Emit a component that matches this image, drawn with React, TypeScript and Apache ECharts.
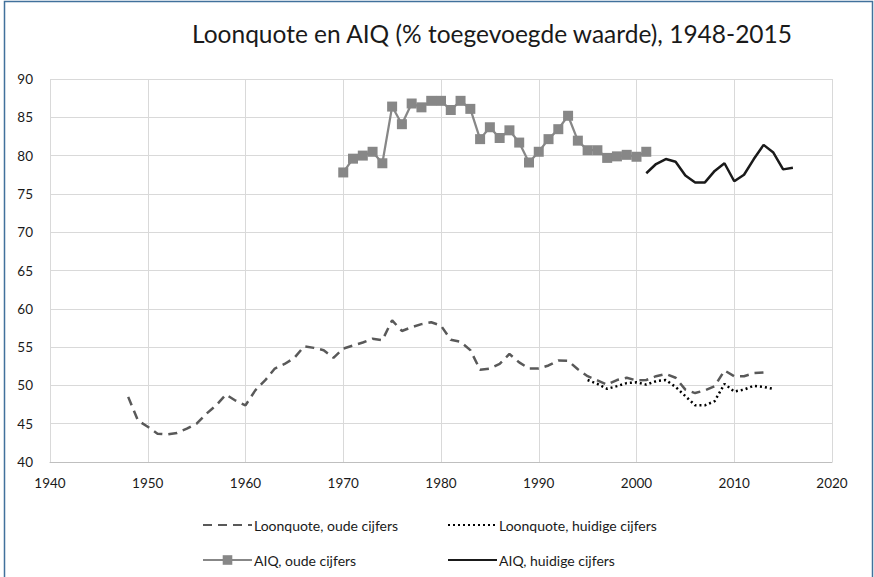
import React, { useEffect, useRef } from "react";
import * as echarts from "echarts";

const titleText = "Loonquote en AIQ (% toegevoegde waarde), 1948-2015";
const seriesNames = [
  "Loonquote, oude cijfers",
  "Loonquote, huidige cijfers",
  "AIQ, oude cijfers",
  "AIQ, huidige cijfers",
];

const lqOldStart = 1948;
const lqOld = [
  48.5, 45.4, 44.6, 43.7, 43.6, 43.8, 44.35, 45.0, 46.3, 47.4, 48.8, 48.0, 47.4,
  49.35, 50.65, 52.2, 52.8, 53.6, 55.1, 54.9, 54.6, 53.6, 54.8, 55.2, 55.6, 56.1,
  55.9, 58.5, 57.1, 57.6, 58.0, 58.25, 57.8, 55.95, 55.7, 54.6, 52.05, 52.2, 52.8,
  54.1, 53.0, 52.2, 52.2, 52.6, 53.25, 53.2, 52.1, 51.2, 50.65, 50.1, 50.7, 51.0,
  50.65, 50.7, 51.2, 51.5, 51.0, 49.45, 49.0, 49.35, 49.9, 51.95, 51.2, 51.2, 51.6,
  51.7,
];

const lqNewStart = 1995;
const lqNew = [
  50.7, 50.2, 49.55, 49.9, 50.3, 50.4, 50.1, 50.55, 50.7, 49.8, 48.6, 47.4, 47.4,
  47.95, 50.2, 49.2, 49.45, 49.95, 49.8, 49.55,
];

const aiqOldStart = 1970;
const aiqOld = [
  77.8, 79.6, 80.0, 80.5, 79.0, 86.4, 84.1, 86.8, 86.3, 87.15, 87.15, 85.95, 87.15,
  86.1, 82.15, 83.7, 82.3, 83.3, 81.7, 79.1, 80.5, 82.15, 83.45, 85.2, 81.95, 80.7,
  80.7, 79.7, 79.9, 80.1, 79.85, 80.5,
];

const aiqNewStart = 2001;
const aiqNew = [
  77.7, 78.9, 79.55, 79.2, 77.4, 76.5, 76.5, 78.0, 79.0, 76.65, 77.5, 79.55, 81.4,
  80.4, 78.2, 78.4,
];

const toPairs = (start: number, vals: number[]) =>
  vals.map((v, i) => [start + i, v]);

const FONT = "Lato, 'Liberation Sans', sans-serif";

export default function App() {
  const ref = useRef<HTMLDivElement>(null);

  useEffect(() => {
    if (!ref.current) return;
    const chart = echarts.init(ref.current, undefined, { renderer: "svg" });

    const legendBase = {
      orient: "horizontal",
      padding: 0,
      itemWidth: 49,
      itemHeight: 12,
      itemGap: 0,
      textStyle: { fontFamily: FONT, fontSize: 14, color: "#1a1a1a", padding: [0, 0, 0, -3] },
      selectedMode: false,
    };
    const noSymbol = { itemStyle: { opacity: 0 } };

    chart.setOption({
      animation: false,
      backgroundColor: "#ffffff",
      title: {
        text: titleText,
        left: 187,
        top: 16,
        textStyle: { fontFamily: FONT, fontSize: 24.5, fontWeight: "normal", color: "#1a1a1a" },
      },
      graphic: [
        {
          type: "rect",
          shape: { x: 4.5, y: 1.5, width: 868, height: 600 },
          style: { fill: "none", stroke: "#41719c", lineWidth: 1.5 },
          silent: true,
        },
      ],
      legend: [
        { ...legendBase, ...noSymbol, data: [seriesNames[0]], left: 202, top: 518 },
        { ...legendBase, ...noSymbol, data: [seriesNames[1]], left: 447, top: 518 },
        { ...legendBase, data: [seriesNames[2]], left: 202, top: 553 },
        { ...legendBase, ...noSymbol, data: [seriesNames[3]], left: 447, top: 553 },
      ],
      grid: { left: 50, right: 42, top: 79, bottom: 115, containLabel: false },
      xAxis: {
        type: "value",
        min: 1940,
        max: 2020,
        interval: 10,
        axisLine: { show: true, lineStyle: { color: "#bfbfbf", width: 1 } },
        axisTick: { show: false },
        axisLabel: {
          fontFamily: FONT,
          fontSize: 13.5,
          color: "#1a1a1a",
          margin: 14,
          formatter: (v: number) => String(v),
        },
        splitLine: { show: true, lineStyle: { color: "#d9d9d9", width: 1 } },
      },
      yAxis: {
        type: "value",
        min: 40,
        max: 90,
        interval: 5,
        axisLine: { show: false },
        axisTick: { show: false },
        axisLabel: { fontFamily: FONT, fontSize: 13.5, color: "#1a1a1a", margin: 17 },
        splitLine: { show: true, lineStyle: { color: "#d9d9d9", width: 1 } },
      },
      series: [
        {
          name: seriesNames[0],
          type: "line",
          data: toPairs(lqOldStart, lqOld),
          symbol: "none",
          color: "#595959",
          lineStyle: { color: "#595959", width: 2.5, type: [9, 6], cap: "butt" },
        },
        {
          name: seriesNames[1],
          type: "line",
          data: toPairs(lqNewStart, lqNew),
          symbol: "none",
          color: "#000000",
          lineStyle: { color: "#000000", width: 2.5, type: [2, 3], cap: "butt" },
        },
        {
          name: seriesNames[2],
          type: "line",
          data: toPairs(aiqOldStart, aiqOld),
          symbol: "rect",
          symbolSize: 10,
          color: "#878787",
          itemStyle: { color: "#878787" },
          lineStyle: { color: "#878787", width: 2.25 },
        },
        {
          name: seriesNames[3],
          type: "line",
          data: toPairs(aiqNewStart, aiqNew),
          symbol: "none",
          color: "#1a1a1a",
          lineStyle: { color: "#1a1a1a", width: 2.5 },
        },
      ],
    });

    return () => chart.dispose();
  }, []);

  return (
    <div
      ref={ref}
      style={{ position: "fixed", left: 0, top: 0, width: 874, height: 577 }}
    />
  );
}
